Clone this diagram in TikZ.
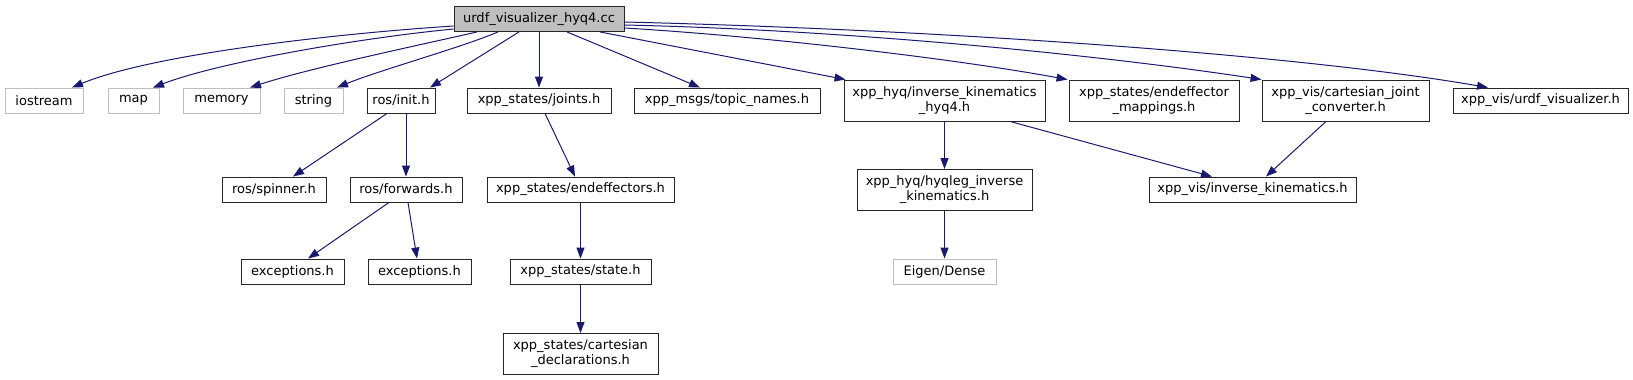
\documentclass[tikz,border=0pt]{standalone}
\usepackage{fontspec}
\setmainfont{DejaVu Sans}
\usepackage{tikz}
\usetikzlibrary{arrows.meta,positioning}
\definecolor{edgeblue}{HTML}{191970}
\definecolor{extgray}{HTML}{BFBFBF}

\begin{document}
\begin{tikzpicture}[
			x=1pt, y=-1pt,
			every node/.style={
				draw,
				align=center,
				inner sep=0pt,
				minimum height=25pt,
				line width=0.9pt,
				text=black,
				font=\fontsize{13}{15}\selectfont
			},
			file/.style={draw=black!85},
			ext/.style={draw=extgray},
			mainfile/.style={draw=black!85,fill=extgray},
			twoline/.style={minimum height=41pt},
			arrow/.style={-{Triangle[length=11pt,width=8pt]},line width=1pt,color=edgeblue}
			]
			
			\useasboundingbox (0,0) rectangle (1633,380);
			
			\node[mainfile,minimum width=170pt] (main) at (539,19) {urdf\_visualizer\_hyq4.cc};
			
			\node[ext,minimum width=78pt] (iostream) at (44,100.5) {iostream};
			\node[ext,minimum width=51pt] (map) at (133.5,100.5) {map};
			\node[ext,minimum width=77pt] (memory) at (221.5,100.5) {memory};
			\node[ext,minimum width=59pt] (string) at (313.5,100.5) {string};
			\node[file,minimum width=68pt] (rosinit) at (401,100.5) {ros/init.h};
			\node[file,minimum width=144pt] (joints) at (539,100.5) {xpp\_states/joints.h};
			\node[file,minimum width=186pt] (topics) at (727,100.5) {xpp\_msgs/topic\_names.h};
			\node[file,twoline,minimum width=201pt] (hyqik) at (944.5,100.5) {xpp\_hyq/inverse\_kinematics\\\_hyq4.h};
			\node[file,twoline,minimum width=170pt] (eemap) at (1154,100.5) {xpp\_states/endeffector\\\_mappings.h};
			\node[file,twoline,minimum width=167pt] (converter) at (1345.5,100.5) {xpp\_vis/cartesian\_joint\\\_converter.h};
			\node[file,minimum width=175pt] (urdfvis) at (1540.5,100.5) {xpp\_vis/urdf\_visualizer.h};
			
			\node[file,minimum width=104pt] (spinner) at (274,189.5) {ros/spinner.h};
			\node[file,minimum width=112pt] (forwards) at (406,189.5) {ros/forwards.h};
			\node[file,minimum width=187pt] (endeff) at (580.5,189.5) {xpp\_states/endeffectors.h};
			\node[file,twoline,minimum width=175pt] (hyqleg) at (944.5,190) {xpp\_hyq/hyqleg\_inverse\\\_kinematics.h};
			\node[file,minimum width=207pt] (visik) at (1252.5,189.5) {xpp\_vis/inverse\_kinematics.h};
			
			\node[file,minimum width=103pt] (exceptA) at (292.5,271.5) {exceptions.h};
			\node[file,minimum width=103pt] (exceptB) at (419.5,271.5) {exceptions.h};
			\node[file,minimum width=141pt] (state) at (580.5,271.5) {xpp\_states/state.h};
			\node[ext,minimum width=103pt] (eigen) at (944.5,271.5) {Eigen/Dense};
			
			\node[file,twoline,minimum width=155pt] (cartdecl) at (580.5,354) {xpp\_states/cartesian\\\_declarations.h};
			
			% includes of the main file
			\draw[arrow] ([yshift=-7pt]main.west) .. controls (330,34) and (150,55) .. ([xshift=28pt]iostream.north);
			\draw[arrow] ([yshift=-10pt]main.west) .. controls (360,38) and (220,62) .. ([xshift=19.5pt]map.north);
			\draw[arrow] ([xshift=-62pt]main.south) .. controls (420,45) and (310,68) .. ([xshift=28.5pt]memory.north);
			\draw[arrow] ([xshift=-41pt]main.south) .. controls (460,48) and (380,70) .. ([xshift=23.5pt]string.north);
			\draw[arrow] ([xshift=-20pt]main.south) -- ([xshift=29pt]rosinit.north);
			\draw[arrow] (main) -- (joints);
			\draw[arrow] ([xshift=28pt]main.south) -- ([xshift=-27pt]topics.north);
			\draw[arrow] ([xshift=61pt]main.south) -- ([xshift=2pt]hyqik.north west);
			\draw[arrow] ([yshift=-9pt]main.east) .. controls (760,36) and (950,58) .. ([xshift=-1pt]eemap.north west);
			\draw[arrow] ([yshift=-6pt]main.east) .. controls (850,30) and (1100,55) .. (converter.north west);
			\draw[arrow] ([yshift=-3pt]main.east) .. controls (950,30) and (1300,55) .. ([xshift=-52.5pt]urdfvis.north);
			
			\draw[arrow] ([xshift=-14pt]rosinit.south) -- ([xshift=19pt]spinner.north);
			\draw[arrow] ([xshift=5pt]rosinit.south) -- (forwards.north);
			\draw[arrow] ([xshift=-17pt]forwards.south) -- ([xshift=15.5pt]exceptA.north);
			\draw[arrow] ([xshift=2pt]forwards.south) -- ([xshift=-2.5pt]exceptB.north);
			\draw[arrow] ([xshift=6pt]joints.south) -- ([xshift=-5.5pt]endeff.north);
			\draw[arrow] (endeff) -- (state);
			\draw[arrow] (state) -- (cartdecl);
			\draw[arrow] (hyqik) -- (hyqleg);
			\draw[arrow] ([xshift=65.5pt]hyqik.south) -- ([xshift=-40.5pt]visik.north);
			\draw[arrow] ([xshift=-19.5pt]converter.south) -- ([xshift=13.5pt]visik.north);
			\draw[arrow] (hyqleg) -- (eigen);
			
		\end{tikzpicture}
\end{document}
